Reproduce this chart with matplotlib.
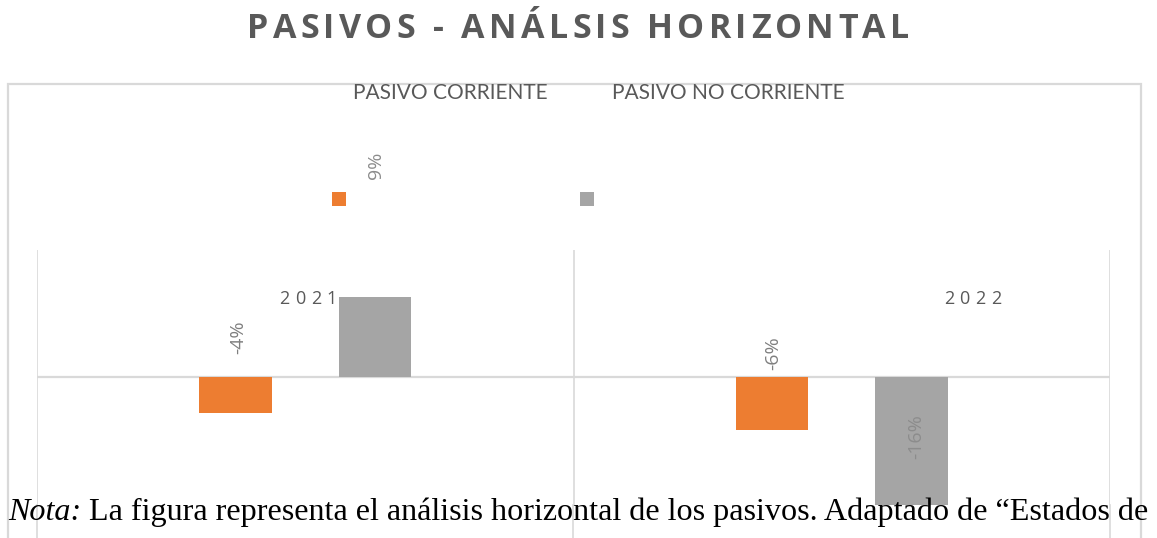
import matplotlib
matplotlib.use("Agg")
import matplotlib.pyplot as plt
from matplotlib.patches import Rectangle
from matplotlib.lines import Line2D

# ---------------- data ----------------
categories = ["2021", "2022"]
series_names = ["PASIVO CORRIENTE", "PASIVO NO CORRIENTE"]
pasivo_corriente = [-4, -6]
pasivo_no_corriente = [9, -16]
colors = ["#ED7D31", "#A5A5A5"]
title = "PASIVOS - ANÁLSIS HORIZONTAL"
note_italic = "Nota:"
note_rest = " La figura representa el análisis horizontal de los pasivos. Adaptado de “Estados de"

W, H, DPI = 1157, 538, 100
fig = plt.figure(figsize=(W / DPI, H / DPI), dpi=DPI)
fig.patch.set_facecolor("white")
r = fig.canvas.get_renderer()


def fx(x):
    return x / W


def fy(y):
    return 1 - y / H


def measure(s, **kw):
    t = fig.text(0, 0, s, **kw)
    bb = t.get_window_extent(renderer=r)
    t.remove()
    return bb.width


def tracked(s, x0, x1, ybase, **kw):
    advs = [measure(c + "|", **kw) - measure("|", **kw) for c in s]
    last_w = measure(s[-1], **kw)
    natural = sum(advs[:-1]) + last_w
    t = (x1 - x0 - natural) / (len(s) - 1)
    x = x0
    for c, a in zip(s, advs):
        fig.text(fx(x), fy(ybase), c, ha="left", va="baseline", **kw)
        x += a + t


GRID = "#D9D9D9"
TXT = "#595959"
LBL = "#7F7F7F"

# outer chart border
fig.add_artist(Rectangle((fx(8), fy(560)), fx(1141) - fx(8), fy(84) - fy(560),
                         transform=fig.transFigure, fill=False, edgecolor=GRID,
                         linewidth=1.6, clip_on=False))

# title
tracked(title, 247, 909, 38, family="Open Sans", fontsize=24.5, fontweight="bold", color=TXT)

# legend texts (same size for both; sized so the first spans 353..547 px)
lw = measure(series_names[0], family="Lato", fontsize=12)
lfs = 12 * (547 - 353) / lw
for name, x0 in zip(series_names, [353, 612]):
    fig.text(fx(x0), fy(99), name, ha="left", va="baseline", family="Lato",
             fontsize=lfs, color=TXT)
# legend squares
for col, x0 in zip(colors, [332, 580]):
    fig.add_artist(Rectangle((fx(x0), fy(206)), fx(14), 14 / H,
                             transform=fig.transFigure, facecolor=col, edgecolor="none"))

# axes (plot area)
ax = fig.add_axes([fx(37), fy(505), fx(1110) - fx(37), (505 - 250) / H])
ax.set_facecolor("none")
for s in ax.spines.values():
    s.set_visible(False)
ax.set_xticks([])
ax.set_yticks([])
ax.set_xlim(-0.5, 1.5)
ax.set_ylim(-14.4, 14.3)

xs = list(range(len(categories)))
bw = 0.136
off = 0.13
ax.bar([x - off for x in xs], pasivo_corriente, width=bw, color=colors[0], zorder=2)
ax.bar([x + off for x in xs], pasivo_no_corriente, width=bw, color=colors[1], zorder=2)
ax.axhline(0, color=GRID, linewidth=1.6, zorder=1)
for xb in [-0.5, 0.5, 1.5]:
    ax.axvline(xb, ymin=0, ymax=1, color=GRID, linewidth=1.2, zorder=0)
# separators continue below plot area
for xpx in [37, 573, 1110]:
    fig.add_artist(Line2D([fx(xpx), fx(xpx)], [fy(505), fy(540)], transform=fig.transFigure,
                          color=GRID, linewidth=1.2, zorder=0))

# category labels (displaced)
tracked(categories[0], 279, 337, 304, family="Open Sans", fontsize=13, color=TXT)
tracked(categories[1], 944, 1001, 304, family="Open Sans", fontsize=13, color=TXT)

# data labels (displaced positions)
lab_pos = {("c", 0): (238, 337), ("c", 1): (773, 353), ("n", 0): (376, 165), ("n", 1): (916, 437)}
for i, v in enumerate(pasivo_corriente):
    x, y = lab_pos[("c", i)]
    fig.text(fx(x), fy(y), f"{v}%", rotation=90, ha="center", va="center",
             family="Open Sans", fontsize=14, color=LBL)
for i, v in enumerate(pasivo_no_corriente):
    x, y = lab_pos[("n", i)]
    fig.text(fx(x), fy(y), f"{v}%", rotation=90, ha="center", va="center",
             family="Open Sans", fontsize=14, color="#8C8C8C")

# note text
base = 20
w1 = measure(note_italic, family="Liberation Serif", fontsize=base, style="italic")
w2 = measure(note_rest + "|", family="Liberation Serif", fontsize=base) - measure("|", family="Liberation Serif", fontsize=base)
fs = base * (1150 - 8) / (w1 + w2)
w1s = w1 * fs / base
fig.text(fx(8), fy(520), note_italic, family="Liberation Serif", fontsize=fs, style="italic",
         ha="left", va="baseline", color="black")
fig.text(fx(8 + w1s), fy(520), note_rest, family="Liberation Serif", fontsize=fs,
         ha="left", va="baseline", color="black")

fig.savefig("out.png", dpi=DPI, facecolor="white")
